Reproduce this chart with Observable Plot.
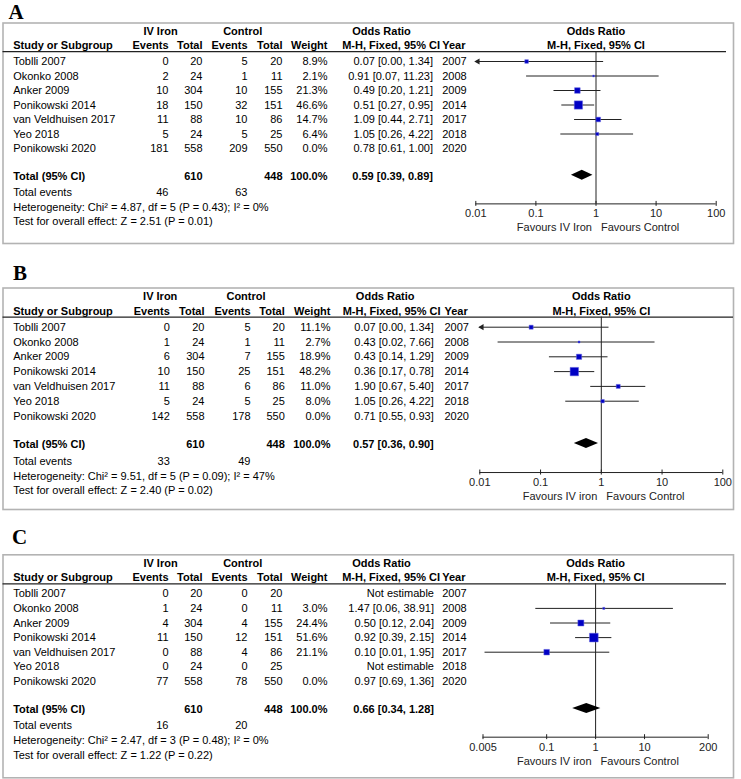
<!DOCTYPE html>
<html><head><meta charset="utf-8">
<script src="https://cdn.jsdelivr.net/npm/d3@7"></script>
<script src="https://cdn.jsdelivr.net/npm/@observablehq/plot@0.6"></script>
<style>
body{margin:0;background:#fff;}
#chart svg{display:block;}
</style></head><body><div id="chart"></div>
<script>
// ---------- shared data ----------
const studies = ["Toblli 2007", "Okonko 2008", "Anker 2009", "Ponikowski 2014", "van Veldhuisen 2017", "Yeo 2018", "Ponikowski 2020"];
const years = [2007, 2008, 2009, 2014, 2017, 2018, 2020];
const ivTotal = [20, 24, 304, 150, 88, 24, 558];
const ctrlTotal = [20, 11, 155, 151, 86, 25, 550];
const sumTotals = [610, 448];

// ---------- panel A ----------
const aIvEvents = [0, 2, 10, 18, 11, 5, 181];
const aCtrlEvents = [5, 1, 10, 32, 10, 5, 209];
const aWeight = [8.9, 2.1, 21.3, 46.6, 14.7, 6.4, 0.0];
const aOR = [0.07, 0.91, 0.49, 0.51, 1.09, 1.05, 0.78];
const aLo = [0.00, 0.07, 0.20, 0.27, 0.44, 0.26, 0.61];
const aHi = [1.34, 11.23, 1.21, 0.95, 2.71, 4.22, 1.00];
const aORLabels = ["0.07 [0.00, 1.34]", "0.91 [0.07, 11.23]", "0.49 [0.20, 1.21]", "0.51 [0.27, 0.95]", "1.09 [0.44, 2.71]", "1.05 [0.26, 4.22]", "0.78 [0.61, 1.00]"];
const aTotalOR = [0.59, 0.39, 0.89];
const aTotalEvents = [46, 63];
const aHet = "Heterogeneity: Chi² = 4.87, df = 5 (P = 0.43); I² = 0%";
const aTest = "Test for overall effect: Z = 2.51 (P = 0.01)";

// ---------- panel B ----------
const bIvEvents = [0, 1, 6, 10, 11, 5, 142];
const bCtrlEvents = [5, 1, 7, 25, 6, 5, 178];
const bWeight = [11.1, 2.7, 18.9, 48.2, 11.0, 8.0, 0.0];
const bOR = [0.07, 0.43, 0.43, 0.36, 1.90, 1.05, 0.71];
const bLo = [0.00, 0.02, 0.14, 0.17, 0.67, 0.26, 0.55];
const bHi = [1.34, 7.66, 1.29, 0.78, 5.40, 4.22, 0.93];
const bORLabels = ["0.07 [0.00, 1.34]", "0.43 [0.02, 7.66]", "0.43 [0.14, 1.29]", "0.36 [0.17, 0.78]", "1.90 [0.67, 5.40]", "1.05 [0.26, 4.22]", "0.71 [0.55, 0.93]"];
const bTotalOR = [0.57, 0.36, 0.90];
const bTotalEvents = [33, 49];
const bHet = "Heterogeneity: Chi² = 9.51, df = 5 (P = 0.09); I² = 47%";
const bTest = "Test for overall effect: Z = 2.40 (P = 0.02)";

// ---------- panel C ----------
const cIvEvents = [0, 1, 4, 11, 0, 0, 77];
const cCtrlEvents = [0, 0, 4, 12, 4, 0, 78];
const cWeight = [null, 3.0, 24.4, 51.6, 21.1, null, 0.0];
const cOR = [null, 1.47, 0.50, 0.92, 0.10, null, 0.97];
const cLo = [null, 0.06, 0.12, 0.39, 0.0055, null, 0.69];
const cHi = [null, 38.91, 2.04, 2.15, 1.95, null, 1.36];
const cORLabels = ["Not estimable", "1.47 [0.06, 38.91]", "0.50 [0.12, 2.04]", "0.92 [0.39, 2.15]", "0.10 [0.01, 1.95]", "Not estimable", "0.97 [0.69, 1.36]"];
const cTotalOR = [0.66, 0.34, 1.28];
const cTotalEvents = [16, 20];
const cHet = "Heterogeneity: Chi² = 2.47, df = 3 (P = 0.48); I² = 0%";
const cTest = "Test for overall effect: Z = 1.22 (P = 0.22)";

// ---------- axis ticks ----------
const abTicks = [0.01, 0.1, 1, 10, 100];
const abTickLabels = ["0.01", "0.1", "1", "10", "100"];
const cTicks = [0.005, 0.1, 1, 10, 200];
const cTickLabels = ["0.005", "0.1", "1", "10", "200"];
const favoursA = ["Favours IV Iron", "Favours Control"];
const favoursBC = ["Favours IV iron", "Favours Control"];

// ---------- layout (row units) ----------
const L = {h1: -2.07, h2: -1.09, line: -0.68, total: 7.95, diamond: 7.85, events: 9.04, het: 10.06, test: 11.05, axis: 9.82, tick: 0.17};
const FONT = "Liberation Sans, Arial, Helvetica, sans-serif";
const FS = 11;
const INK = "#222";

function panel(p) {
  const rows = studies.map((s, i) => ({
    i, study: s, year: String(years[i]),
    ive: p.ivEvents[i], ivt: ivTotal[i], ce: p.ctrlEvents[i], ct: ctrlTotal[i],
    w: p.weight[i], wLabel: p.weight[i] == null ? "" : p.weight[i].toFixed(1) + "%",
    or: p.or[i], lo: p.lo[i], hi: p.hi[i], orLabel: p.orLabels[i]
  }));
  const [xmin, xmax] = p.domain;
  const plotted = rows.filter(d => d.w > 0);
  const ciRows = plotted.filter(d => d.lo > xmin);
  const arrowRows = plotted.filter(d => !(d.lo > xmin));
  const ml = p.margin.left;
  const c = p.cols;
  const h = 5 / p.step;
  const [tEst, tLo, tHi] = p.totalOR;
  const diamond = [
    {x: tLo, y1: L.diamond, y2: L.diamond},
    {x: tEst, y1: L.diamond - h, y2: L.diamond + h},
    {x: tHi, y1: L.diamond, y2: L.diamond}
  ];
  const fmt = v => v.toFixed(2);
  const cell = (t, row, x, anchor, bold) => Plot.text([t], {
    y: () => row, text: d => d, frameAnchor: "left", dx: x - ml, fontSize: FS,
    textAnchor: anchor, lineAnchor: "middle", fontWeight: bold ? "bold" : "normal", fill: "#000"
  });
  const column = (key, x, anchor) => Plot.text(rows, {
    y: "i", text: key, frameAnchor: "left", dx: x - ml, textAnchor: anchor, lineAnchor: "middle", fontSize: FS, fill: "#000"
  });
  return Plot.plot({
    width: 741, height: p.height,
    marginLeft: p.margin.left, marginRight: p.margin.right,
    marginTop: p.margin.top, marginBottom: p.margin.bottom,
    x: {type: "log", domain: p.domain, range: p.xRange, axis: null},
    y: {type: "linear", domain: [0, 6], range: [p.row0, p.row0 + 6 * p.step], axis: null},
    r: {type: "sqrt", domain: [0, 50], range: [0, 4.85]},
    style: {fontFamily: FONT, fontSize: "11px", color: "#000", background: "#fff", overflow: "visible"},
    marks: [
      Plot.frame({stroke: "#b3b3b3", strokeWidth: 1.6}),
      Plot.text([p.letter], {frameAnchor: "top-left", dx: p.letterX - ml, dy: p.letterY - p.margin.top,
        textAnchor: "start", lineAnchor: "middle", fontFamily: "Liberation Serif, Times New Roman, serif",
        fontSize: 21, fontWeight: "bold", fill: "#000"}),
      // header
      cell("IV Iron", L.h1, c.ivHead, "middle", true),
      cell("Control", L.h1, c.ctrlHead, "middle", true),
      cell("Odds Ratio", L.h1, c.orHead, "middle", true),
      Plot.text(["Odds Ratio"], {x: () => 1, y: () => L.h1, text: d => d, fontWeight: "bold", fontSize: FS, fill: "#000"}),
      cell("Study or Subgroup", L.h2, c.study, "start", true),
      cell("Events", L.h2, c.ive, "end", true),
      cell("Total", L.h2, c.ivt, "end", true),
      cell("Events", L.h2, c.ce, "end", true),
      cell("Total", L.h2, c.ct, "end", true),
      cell("Weight", L.h2, c.w, "end", true),
      cell("M-H, Fixed, 95% CI", L.h2, c.mh, "end", true),
      cell("Year", L.h2, c.year, "start", true),
      Plot.text(["M-H, Fixed, 95% CI"], {x: () => 1, y: () => L.h2, text: d => d, fontWeight: "bold", fontSize: FS, fill: "#000"}),
      Plot.ruleY([L.line], {y: d => d, stroke: INK, strokeWidth: 1.2, insetRight: p.lineInsetRight}),
      // study rows
      column("study", c.study, "start"),
      column("ive", c.ive, "end"),
      column("ivt", c.ivt, "end"),
      column("ce", c.ce, "end"),
      column("ct", c.ct, "end"),
      column("wLabel", c.w, "end"),
      column("orLabel", c.or, "end"),
      column("year", c.year, "start"),
      // totals
      cell("Total (95% CI)", L.total, c.study, "start", true),
      cell(String(sumTotals[0]), L.total, c.ivt, "end", true),
      cell(String(sumTotals[1]), L.total, c.ct, "end", true),
      cell("100.0%", L.total, c.w, "end", true),
      cell(`${fmt(tEst)} [${fmt(tLo)}, ${fmt(tHi)}]`, L.total, c.or, "end", true),
      cell("Total events", L.events, c.study, "start", false),
      cell(String(p.totalEvents[0]), L.events, c.ive, "end", false),
      cell(String(p.totalEvents[1]), L.events, c.ce, "end", false),
      cell(p.het, L.het, c.study, "start", false),
      cell(p.test, L.test, c.study, "start", false),
      // forest plot
      Plot.ruleX([1], {x: d => d, y1: () => L.line, y2: () => L.axis, stroke: INK}),
      Plot.ruleY(ciRows, {y: "i", x1: "lo", x2: "hi", stroke: INK}),
      Plot.ruleY(arrowRows, {y: "i", x1: () => xmin, x2: "hi", stroke: INK}),
      Plot.dot(arrowRows, {x: () => xmin, y: "i", symbol: "triangle", r: 2.3, rotate: -90, dx: 2, fill: INK, stroke: null}),
      Plot.dot(plotted, {x: "or", y: "i", r: "w", symbol: "square", fill: "#0000c4", stroke: "#6a6ae0", strokeWidth: 0.5}),
      Plot.areaY(diamond, {x: "x", y1: "y1", y2: "y2", fill: "#000", curve: "linear"}),
      // axis
      Plot.ruleY([L.axis], {y: d => d, x1: () => xmin, x2: () => xmax, stroke: INK}),
      Plot.ruleX(p.ticks, {x: d => d, y1: () => L.axis - L.tick, y2: () => L.axis + L.tick, stroke: INK}),
      Plot.text(p.ticks, {x: d => d, y: () => L.axis, dy: 10, text: (d, i) => p.tickLabels[i], fontSize: FS, fill: "#222"}),
      Plot.text([p.favours[0]], {x: () => 1, y: () => L.axis, dy: 24, dx: -4, text: d => d, textAnchor: "end", fontSize: FS, fill: "#222"}),
      Plot.text([p.favours[1]], {x: () => 1, y: () => L.axis, dy: 24, dx: 5, text: d => d, textAnchor: "start", fontSize: FS, fill: "#222"})
    ]
  });
}

const colsA = {study: 12.7, ive: 168, ivt: 202, ce: 247, ct: 282, w: 327, or: 432.5, mh: 439.5, year: 441.7, ivHead: 160, ctrlHead: 242.2, orHead: 381};
const colsB = {study: 12.7, ive: 169.3, ivt: 204, ce: 250, ct: 284.3, w: 330, or: 433.3, mh: 440, year: 444, ivHead: 159.7, ctrlHead: 245.5, orHead: 384.7};
const colsC = {study: 12.7, ive: 168, ivt: 202, ce: 247, ct: 282, w: 327, or: 433.5, mh: 439.5, year: 441.7, ivHead: 160, ctrlHead: 242.2, orHead: 381};

const chart = document.getElementById("chart");
chart.append(panel({
  letter: "A", letterX: 8, letterY: 12, height: 250,
  margin: {top: 22.5, right: 8, bottom: 7, left: 2.5}, row0: 61, step: 14.5,
  domain: [0.01, 100], xRange: [475.3, 715.7], ticks: abTicks, tickLabels: abTickLabels, favours: favoursA,
  cols: colsA, lineInsetRight: 7,
  ivEvents: aIvEvents, ctrlEvents: aCtrlEvents, weight: aWeight, or: aOR, lo: aLo, hi: aHi, orLabels: aORLabels,
  totalOR: aTotalOR, totalEvents: aTotalEvents, het: aHet, test: aTest
}));
chart.append(panel({
  letter: "B", letterX: 12.5, letterY: 23, height: 260,
  margin: {top: 37.5, right: 8, bottom: 1, left: 2.5}, row0: 76.7, step: 14.8,
  domain: [0.01, 100], xRange: [479.3, 722.3], ticks: abTicks, tickLabels: abTickLabels, favours: favoursBC,
  cols: colsB, lineInsetRight: 0,
  ivEvents: bIvEvents, ctrlEvents: bCtrlEvents, weight: bWeight, or: bOR, lo: bLo, hi: bHi, orLabels: bORLabels,
  totalOR: bTotalOR, totalEvents: bTotalEvents, het: bHet, test: bTest
}));
chart.append(panel({
  letter: "C", letterX: 11.5, letterY: 27, height: 269,
  margin: {top: 44.3, right: 8, bottom: 1.7, left: 2.5}, row0: 83.3, step: 14.6,
  domain: [0.005, 200], xRange: [482.5, 707.7], ticks: cTicks, tickLabels: cTickLabels, favours: favoursBC,
  cols: colsC, lineInsetRight: 7,
  ivEvents: cIvEvents, ctrlEvents: cCtrlEvents, weight: cWeight, or: cOR, lo: cLo, hi: cHi, orLabels: cORLabels,
  totalOR: cTotalOR, totalEvents: cTotalEvents, het: cHet, test: cTest
}));
</script></body></html>
